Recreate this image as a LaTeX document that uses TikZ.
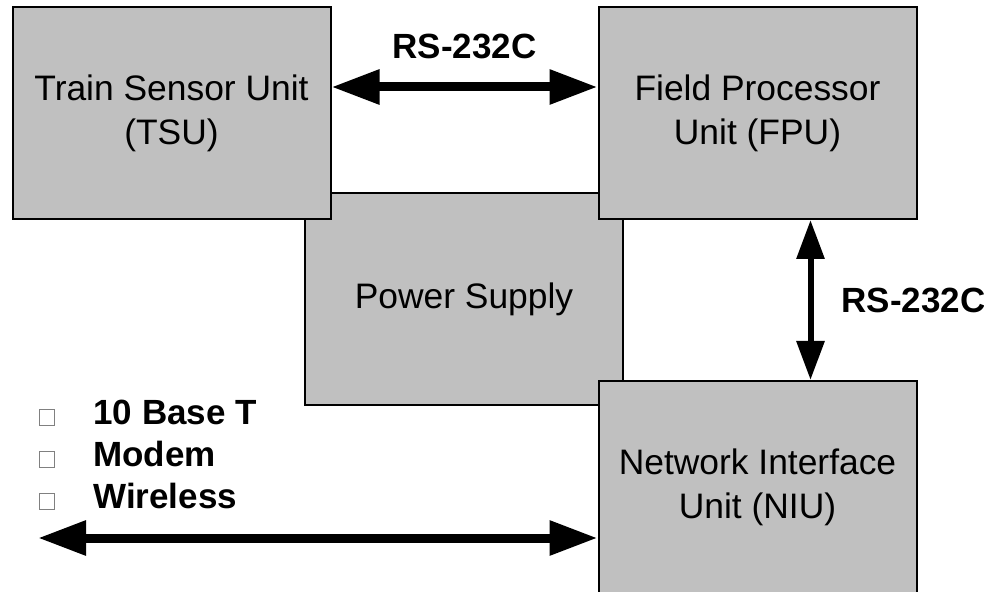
\documentclass[tikz,border=0pt]{standalone}
\usepackage{fontspec}
\setmainfont{Liberation Sans}
\usepackage{xcolor}
\usetikzlibrary{arrows.meta,positioning}
\definecolor{boxgray}{HTML}{C0C0C0}
\newcommand{\tofu}{\textcolor{gray}{\setlength{\fboxsep}{0pt}\setlength{\fboxrule}{0.5pt}\fbox{\rule{0pt}{7.5pt}\hspace{7pt}}}}

\begin{document}
\begin{tikzpicture}[
  x=0.5pt, y=-0.5pt,
  unit/.style={draw, line width=1pt, fill=boxgray, minimum width=159pt, minimum height=106pt,
    align=center, font=\fontsize{17.7}{22}\selectfont},
  tag/.style={inner sep=0pt, font=\fontsize{17.5}{21}\selectfont\bfseries},
  link/.style={{Triangle[length=24pt,width=16.5pt]}-{Triangle[length=24pt,width=16.5pt]}, line width=4.5pt},
  vlink/.style={{Triangle[length=19.5pt,width=13.5pt]}-{Triangle[length=19.5pt,width=13.5pt]}, line width=3pt},
]
  \useasboundingbox (0,0) rectangle (984,592);

  % Power supply (behind the other units)
  \node[unit] (power) at (464,299) {Power Supply};

  % Units
  \node[unit] (tsu) at (171.5,113) {Train Sensor Unit\\(TSU)};
  \node[unit, right=133pt of tsu] (fpu) {Field Processor\\Unit (FPU)};
  \node[unit, below=80pt of fpu] (niu) {Network Interface\\Unit (NIU)};

  % Serial links
  \draw[link] ([yshift=13pt]tsu.east) -- ([yshift=13pt]fpu.west)
    node[tag, midway, above=12pt] (rs1) {RS-232C};
  \draw[vlink] ([xshift=26.5pt]fpu.south) -- ([xshift=26.5pt]niu.north)
    node[tag, midway, right=14pt] (rs2) {RS-232C};

  % Network link
  \coordinate (net) at (38,538);
  \draw[link] (net) -- (net -| niu.west);
  \node[tag, anchor=west, align=left, font=\fontsize{17.5}{21}\selectfont\bfseries] (media) at (39,455)
    {\tofu\hspace{19pt}10 Base T\\ \tofu\hspace{19pt}Modem\\ \tofu\hspace{19pt}Wireless};
\end{tikzpicture}
\end{document}
